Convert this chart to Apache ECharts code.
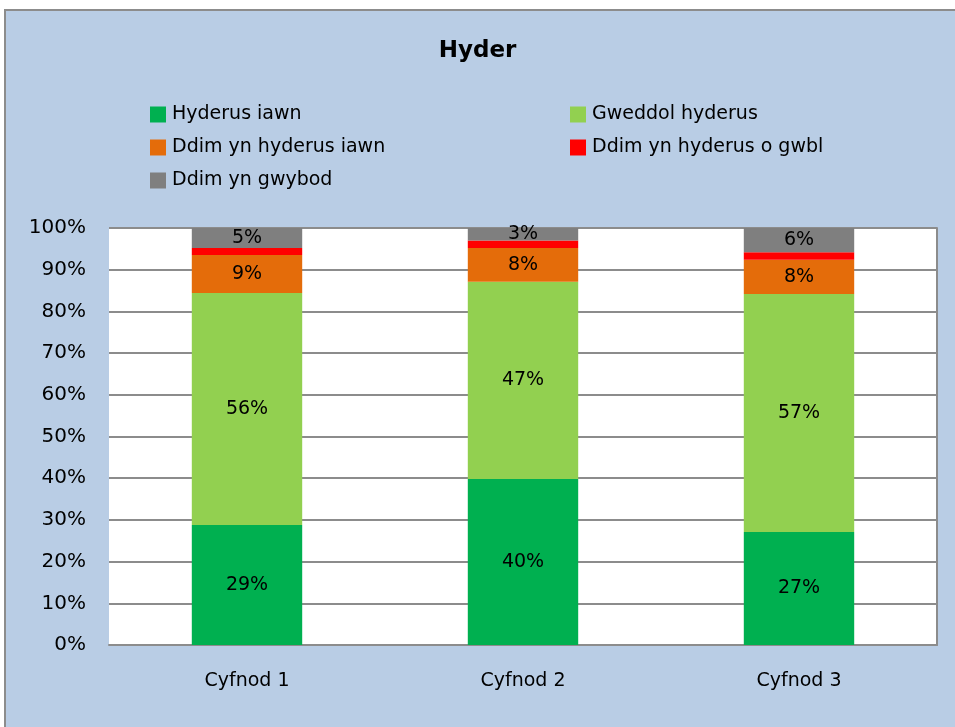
<!DOCTYPE html>
<html>
<head>
<meta charset="utf-8">
<script src="https://cdn.jsdelivr.net/npm/echarts@6/dist/echarts.min.js"></script>
<style>
  html, body { margin: 0; padding: 0; background: #fff; overflow: hidden; }
  #frame { position: absolute; left: 4px; top: 9px; width: 949px; height: 716px;
           background: #B9CDE5; border-left: 2px solid #8c8c8c; border-top: 2px solid #8c8c8c; }
  #main { position: absolute; left: 0; top: 0; width: 955px; height: 727px; }
</style>
</head>
<body>
<div id="frame"></div>
<div id="main"></div>
<script>
  // categories and series (percent)
  var periods = ['Cyfnod 1', 'Cyfnod 2', 'Cyfnod 3'];
  var seriesNames = ['Hyderus iawn', 'Gweddol hyderus', 'Ddim yn hyderus iawn', 'Ddim yn hyderus o gwbl', 'Ddim yn gwybod'];
  var hyderusIawn   = [28.8, 39.8, 27.1];
  var gweddol       = [55.6, 47.3, 57.1];
  var ddimIawn      = [9.1, 8.1, 8.2];
  var ddimOGwbl     = [1.7, 1.8, 1.8];
  var ddimGwybod    = [4.8, 3.0, 5.8];
  var colors = ['#00B050', '#92D050', '#E46C0A', '#FF0000', '#7F7F7F'];
  var showLabel = [true, true, true, false, true];

  var font = '"DejaVu Sans", sans-serif';
  var allData = [hyderusIawn, gweddol, ddimIawn, ddimOGwbl, ddimGwybod];

  var series = [];
  for (var i = 0; i < seriesNames.length; i++) {
    series.push({
      name: seriesNames[i],
      type: 'bar',
      stack: 'total',
      barWidth: '40%',
      data: allData[i],
      itemStyle: { color: colors[i] },
      label: {
        show: showLabel[i],
        position: 'inside',
        color: '#000',
        fontSize: 19,
        fontFamily: font,
        formatter: function (p) { return Math.round(p.value) + '%'; }
      }
    });
  }

  var legendText = { fontSize: 19, color: '#000', fontFamily: font, padding: [0, 0, 0, 1] };

  var chart = echarts.init(document.getElementById('main'));
  chart.setOption({
    animation: false,
    textStyle: { fontFamily: font },
    title: {
      text: 'Hyder',
      left: 'center',
      top: 35,
      textStyle: { fontSize: 23, fontWeight: 'bold', color: '#000', fontFamily: font }
    },
    legend: [
      {
        data: [seriesNames[0], seriesNames[2], seriesNames[4]],
        orient: 'vertical',
        left: 145, top: 100,
        itemWidth: 16, itemHeight: 16, itemGap: 14,
        icon: 'rect',
        textStyle: legendText
      },
      {
        data: [seriesNames[1], seriesNames[3]],
        orient: 'vertical',
        left: 565, top: 100,
        itemWidth: 16, itemHeight: 16, itemGap: 14,
        icon: 'rect',
        textStyle: legendText
      }
    ],
    grid: { left: 109, right: 18, top: 228, bottom: 82, show: true, backgroundColor: '#fff', borderWidth: 0 },
    xAxis: {
      type: 'category',
      data: periods,
      axisLine: { lineStyle: { color: '#8c8c8c', width: 2 } },
      axisTick: { length: 8, lineStyle: { color: '#8c8c8c', width: 2 } },
      axisLabel: { color: '#000', fontSize: 19, margin: 27, fontFamily: font }
    },
    yAxis: [
      {
        type: 'value',
        min: 0, max: 100, interval: 10,
        axisLine: { show: false },
        axisTick: { show: false },
        splitLine: { lineStyle: { color: '#8c8c8c', width: 2 } },
        axisLabel: { color: '#000', fontSize: 20, margin: 23, fontFamily: font, formatter: '{value}%' }
      },
      {
        type: 'value',
        position: 'right',
        min: 0, max: 100, interval: 10,
        axisLine: { show: true, lineStyle: { color: '#8c8c8c', width: 2 } },
        axisTick: { show: false },
        splitLine: { show: false },
        axisLabel: { show: false }
      }
    ],
    series: series
  });
</script>
</body>
</html>
